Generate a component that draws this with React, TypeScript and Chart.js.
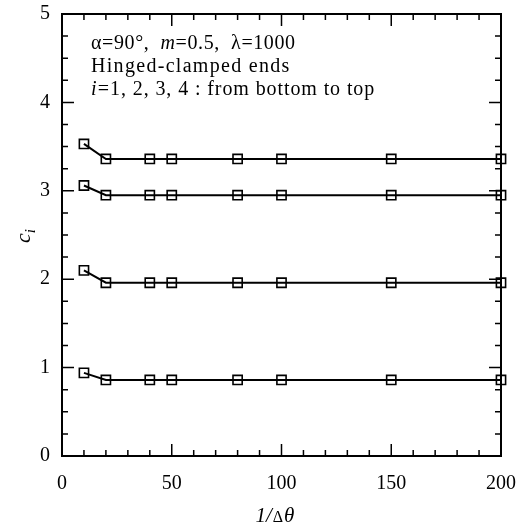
import React, { useEffect, useRef } from "react";
import { Chart, registerables } from "chart.js";

Chart.register(...registerables);

const xValues = [10, 20, 40, 50, 80, 100, 150, 200];
const c1 = [0.94, 0.86, 0.86, 0.86, 0.86, 0.86, 0.86, 0.86];
const c2 = [2.1, 1.96, 1.96, 1.96, 1.96, 1.96, 1.96, 1.96];
const c3 = [3.06, 2.95, 2.95, 2.95, 2.95, 2.95, 2.95, 2.95];
const c4 = [3.53, 3.36, 3.36, 3.36, 3.36, 3.36, 3.36, 3.36];
const seriesList = [c1, c2, c3, c4];
const annotationLines = ["Hinged-clamped ends", "i=1, 2, 3, 4 : from bottom to top"];

const SERIF = "'Liberation Serif', 'DejaVu Serif', serif";

const framePlugin = {
  id: "frame",
  afterDraw(chart: any) {
    const { ctx, chartArea: a, scales } = chart;
    const xs = scales.x;
    const ys = scales.y;
    ctx.save();
    ctx.strokeStyle = "#000";
    ctx.lineWidth = 2;
    ctx.strokeRect(a.left, a.top, a.right - a.left, a.bottom - a.top);
    ctx.lineWidth = 1.5;
    for (let v = 0; v <= 200; v += 10) {
      const px = xs.getPixelForValue(v);
      const len = v % 50 === 0 ? 12 : 6;
      ctx.beginPath();
      ctx.moveTo(px, a.bottom);
      ctx.lineTo(px, a.bottom - len);
      ctx.moveTo(px, a.top);
      ctx.lineTo(px, a.top + len);
      ctx.stroke();
    }
    for (let i = 0; i <= 20; i++) {
      const v = i * 0.25;
      const py = ys.getPixelForValue(v);
      const len = i % 4 === 0 ? 12 : 6;
      ctx.beginPath();
      ctx.moveTo(a.left, py);
      ctx.lineTo(a.left + len, py);
      ctx.moveTo(a.right, py);
      ctx.lineTo(a.right - len, py);
      ctx.stroke();
    }
    ctx.fillStyle = "#000";
    ctx.textBaseline = "alphabetic";
    ctx.textAlign = "left";
    const tx = a.left + 29;
    let x = tx;
    const y0 = 49;
    const parts: [string, string][] = [
      ["α", "normal"],
      ["=90°,  ", "normal"],
      ["m", "italic"],
      ["=0.5,  ", "normal"],
      ["λ", "normal"],
      ["=1000", "normal"],
    ];
    (ctx as any).letterSpacing = "0.6px";
    for (const [t, st] of parts) {
      ctx.font = `${st} 20px ${SERIF}`;
      ctx.fillText(t, x, y0);
      x += ctx.measureText(t).width;
    }
    ctx.font = `normal 20px ${SERIF}`;
    (ctx as any).letterSpacing = "1.3px";
    ctx.fillText(annotationLines[0], tx, y0 + 23);
    ctx.font = `italic 20px ${SERIF}`;
    ctx.fillText("i", tx, y0 + 46);
    const iw = ctx.measureText("i").width;
    ctx.font = `normal 20px ${SERIF}`;
    (ctx as any).letterSpacing = "0.9px";
    ctx.fillText(annotationLines[1].slice(1), tx + iw, y0 + 46);
    (ctx as any).letterSpacing = "0px";
    ctx.save();
    ctx.translate(30, (a.top + a.bottom) / 2 + 2);
    ctx.rotate(-Math.PI / 2);
    ctx.font = `italic 22px ${SERIF}`;
    ctx.textAlign = "left";
    ctx.fillText("c", -6, 0);
    const cw = ctx.measureText("c").width;
    ctx.font = `italic 15px ${SERIF}`;
    ctx.fillText("i", -6 + cw, 5);
    ctx.restore();
    ctx.textAlign = "left";
    let xx = (a.left + a.right) / 2 - 26;
    const yy = 522;
    const xparts: [string, string][] = [["1/", "italic 21px"], ["Δ", "normal 16px"], ["θ", "italic 21px"]];
    for (const [t, f] of xparts) {
      ctx.font = `${f} ${SERIF}`;
      ctx.fillText(t, xx, yy);
      xx += ctx.measureText(t).width + 1;
    }
    ctx.restore();
  },
};

export default function App() {
  const ref = useRef<HTMLCanvasElement>(null);
  useEffect(() => {
    if (!ref.current) return;
    const chart = new Chart(ref.current, {
      type: "line",
      data: {
        datasets: seriesList.map((s) => ({
          data: s.map((v, i) => ({ x: xValues[i], y: v })),
          borderColor: "#000",
          borderWidth: 2,
          pointStyle: "rect",
          pointRadius: 6.5,
          pointBorderWidth: 1.6,
          pointBorderColor: "#000",
          pointBackgroundColor: "rgba(0,0,0,0)",
          fill: false,
          tension: 0,
          clip: false,
        })),
      },
      options: {
        animation: false,
        responsive: false,
        maintainAspectRatio: false,
        layout: { padding: { top: 14, right: 21, left: 0, bottom: 0 } },
        plugins: { legend: { display: false }, tooltip: { enabled: false } },
        scales: {
          x: {
            type: "linear",
            min: 0,
            max: 200,
            border: { display: false },
            grid: { display: false, drawTicks: false },
            ticks: {
              stepSize: 50,
              color: "#000",
              padding: 16,
              font: { family: SERIF, size: 20 },
            },
            afterFit: (s: any) => {
              s.height = 73;
              s.paddingLeft = 0;
              s.paddingRight = 0;
            },
          },
          y: {
            type: "linear",
            min: 0,
            max: 5,
            border: { display: false },
            grid: { display: false, drawTicks: false },
            ticks: {
              stepSize: 1,
              color: "#000",
              padding: 12,
              font: { family: SERIF, size: 20 },
            },
            afterFit: (s: any) => {
              s.width = 62;
              s.paddingTop = 0;
              s.paddingBottom = 0;
            },
          },
        },
      },
      plugins: [framePlugin],
    });
    return () => chart.destroy();
  }, []);
  return (
    <div style={{ position: "fixed", left: 0, top: 0, width: 522, height: 529, background: "#fff" }}>
      <canvas ref={ref} width={522} height={529} style={{ width: 522, height: 529, display: "block" }} />
    </div>
  );
}
